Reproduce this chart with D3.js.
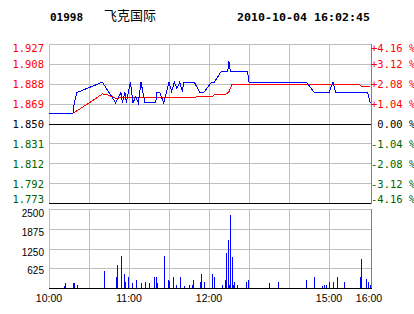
<!DOCTYPE html>
<html>
<head>
<meta charset="utf-8">
<script src="https://cdn.jsdelivr.net/npm/d3@7"></script>
<style>
  body { margin: 0; background: #fff; }
  text { white-space: pre; }
</style>
</head>
<body>
<div id="chart"></div>
<script>
// Header values
const stockCode = '01998';
const stockName = '飞克国际';
const stamp = '2010-10-04 16:02:45';

// Previous close and axis labels
const basePrice = 1.850;
const pctTicks = [4.16, 3.12, 2.08, 1.04, 0, -1.04, -2.08, -3.12, -4.16];
const priceLabels = ['1.927', '1.908', '1.888', '1.869', '1.850', '1.831', '1.812', '1.792', '1.773'];
const pctLabels = ['+4.16 %', '+3.12 %', '+2.08 %', '+1.04 %', ' 0.00 %', '-1.04 %', '-2.08 %', '-3.12 %', '-4.16 %'];
const volTicks = [2500, 1875, 1250, 625];
const timeTicks = [0, 60, 120, 210, 240];
const timeLabels = ['10:00', '11:00', '12:00', '15:00', '16:00'];

// Price line (minutes after 10:00 on the trading clock)
const priceTimes = [0, 18, 19, 21, 40, 50, 54, 55, 57, 58, 61, 63, 65, 67, 69, 72, 80, 81, 83, 86,
  90, 92, 94, 96, 98, 100, 101, 109, 113, 116, 122, 124, 129, 134, 135, 136, 149, 150,
  193, 199, 210, 213, 215, 239, 241];
const prices = [1.86, 1.86, 1.87, 1.88, 1.89, 1.87, 1.88, 1.87, 1.88, 1.87, 1.89, 1.87, 1.876, 1.87, 1.89, 1.87, 1.87, 1.88, 1.88, 1.87,
  1.89, 1.881, 1.89, 1.884, 1.89, 1.881, 1.89, 1.89, 1.88, 1.88, 1.89, 1.89, 1.90, 1.90, 1.91, 1.90, 1.90, 1.89,
  1.89, 1.88, 1.88, 1.89, 1.88, 1.88, 1.87];

// Average price line
const avgTimes = [0, 18, 22, 32, 40, 44, 50, 60, 87, 110, 111, 123, 124, 130, 133, 135, 137, 233, 234, 241];
const avgPrices = [1.86, 1.86, 1.8632, 1.8715, 1.8786, 1.8776, 1.8745, 1.8752, 1.8753, 1.8753, 1.8763, 1.8763,
  1.8779, 1.8779, 1.8786, 1.8809, 1.8873, 1.8873, 1.8862, 1.8862];

// Volume bars
const volTimes = [11, 12, 18, 19, 21, 41, 50, 51, 54, 56, 57, 59, 62, 65, 69, 72, 75, 79, 80, 81, 86, 89, 90, 93, 95, 98,
  101, 105, 107, 108, 113, 114, 116, 122, 124, 130, 132, 133, 134, 135, 136, 137, 138, 139, 141, 148, 149,
  165, 172, 193, 199, 205, 206, 208, 210, 213, 216, 221, 233, 234, 238, 239, 241];
const volumes = [70, 170, 170, 170, 100, 550, 340, 730, 1010, 450, 180, 360, 160, 260, 160, 200, 160, 340, 340, 160, 1010, 260, 210, 340, 100, 340,
  70, 100, 100, 260, 180, 450, 180, 450, 340, 100, 260, 1110, 1510, 80, 2320, 990, 100, 200, 100, 180, 260,
  170, 180, 260, 360, 70, 100, 100, 180, 180, 360, 180, 360, 930, 300, 180, 100];

const W = 414, H = 314;
const left = 49, right = 371;
const gridColor = '#c0c0c0';
const red = '#ff0000', green = '#006400';
const mono = '"DejaVu Sans Mono", monospace';
const sans = '"Liberation Sans", Arial, sans-serif';

const svg = d3.select('#chart')
  .append('svg')
  .attr('width', W)
  .attr('height', H);

// Scales
const x = d3.scaleLinear().domain([0, 240]).range([left, 369]);
const yPct = d3.scaleLinear().domain([-4.16, 4.16]).range([203, 44]);
const yPrice = p => yPct((p / basePrice - 1) * 100);
const yVol = d3.scaleLinear().domain([0, 2500]).range([288, 209]);
const px = v => Math.round(v) + 0.5;

// Header
svg.append('text')
  .attr('x', 50).attr('y', 21)
  .attr('font-family', mono).attr('font-weight', 'bold').attr('font-size', 11)
  .text(stockCode);
svg.append('text')
  .attr('x', 104).attr('y', 20)
  .attr('font-family', '"Noto Sans CJK SC", sans-serif').attr('font-size', 13)
  .text(stockName);
svg.append('text')
  .attr('x', 237).attr('y', 21)
  .attr('font-family', mono).attr('font-weight', 'bold').attr('font-size', 11)
  .attr('textLength', 133).attr('lengthAdjust', 'spacingAndGlyphs')
  .text(stamp);

// Price panel grid
const vGrid = d3.range(0, 240, 30);
svg.append('g').selectAll('line')
  .data(vGrid)
  .enter()
  .append('line')
  .attr('x1', d => px(x(d))).attr('x2', d => px(x(d)))
  .attr('y1', 44).attr('y2', 203)
  .attr('stroke', gridColor)
  .attr('shape-rendering', 'crispEdges');

svg.append('g').selectAll('line')
  .data(pctTicks)
  .enter()
  .append('line')
  .attr('x1', left).attr('x2', right)
  .attr('y1', d => px(yPct(d))).attr('y2', d => px(yPct(d)))
  .attr('stroke', (d, i) => (d === 0 || i === pctTicks.length - 1) ? '#000' : gridColor)
  .attr('shape-rendering', 'crispEdges');

// Right axis line
svg.append('line')
  .attr('x1', right + 0.5).attr('x2', right + 0.5)
  .attr('y1', 44).attr('y2', 204)
  .attr('stroke', '#808080')
  .attr('shape-rendering', 'crispEdges');

// Price and percent labels
const labelY = (d, i) => {
  if (i === 0) return 51.5;
  if (i === pctTicks.length - 1) return 203;
  return yPct(d) + 4.5;
};
const labelColor = d => d > 0 ? red : (d < 0 ? green : '#000');

svg.append('g').selectAll('text')
  .data(pctTicks)
  .enter()
  .append('text')
  .attr('x', 44).attr('y', labelY)
  .attr('text-anchor', 'end')
  .attr('font-family', mono).attr('font-size', 10.5)
  .attr('fill', labelColor)
  .text((d, i) => priceLabels[i]);

svg.append('g').selectAll('text')
  .data(pctTicks)
  .enter()
  .append('text')
  .attr('x', right).attr('y', labelY)
  .attr('font-family', mono).attr('font-size', 10.5)
  .attr('fill', labelColor)
  .text((d, i) => pctLabels[i]);

// Average and price lines
const line = d3.line()
  .x(d => x(d[0]))
  .y(d => yPrice(d[1]));

svg.append('path')
  .attr('d', line(d3.zip(avgTimes, avgPrices)))
  .attr('fill', 'none')
  .attr('stroke', red)
  .attr('stroke-width', 1)
  .attr('shape-rendering', 'crispEdges');

svg.append('path')
  .attr('d', line(d3.zip(priceTimes, prices)))
  .attr('fill', 'none')
  .attr('stroke', '#0000ff')
  .attr('stroke-width', 1)
  .attr('shape-rendering', 'crispEdges');

// Volume panel grid
svg.append('g').selectAll('line')
  .data(vGrid)
  .enter()
  .append('line')
  .attr('x1', d => px(x(d))).attr('x2', d => px(x(d)))
  .attr('y1', 209).attr('y2', 288)
  .attr('stroke', gridColor)
  .attr('shape-rendering', 'crispEdges');

svg.append('g').selectAll('line')
  .data(volTicks)
  .enter()
  .append('line')
  .attr('x1', left).attr('x2', right)
  .attr('y1', d => px(yVol(d))).attr('y2', d => px(yVol(d)))
  .attr('stroke', gridColor)
  .attr('shape-rendering', 'crispEdges');

svg.append('line')
  .attr('x1', right + 0.5).attr('x2', right + 0.5)
  .attr('y1', 209).attr('y2', 289)
  .attr('stroke', '#808080')
  .attr('shape-rendering', 'crispEdges');

// Volume bars
svg.append('g').selectAll('rect')
  .data(d3.zip(volTimes, volumes))
  .enter()
  .append('rect')
  .attr('x', d => Math.round(x(d[0])))
  .attr('y', d => Math.round(yVol(d[1])))
  .attr('width', 1)
  .attr('height', d => yVol(0) - Math.round(yVol(d[1])))
  .attr('fill', '#0000ff')
  .attr('shape-rendering', 'crispEdges');

// Volume baseline
svg.append('line')
  .attr('x1', left).attr('x2', right + 1)
  .attr('y1', px(yVol(0))).attr('y2', px(yVol(0)))
  .attr('stroke', '#000')
  .attr('shape-rendering', 'crispEdges');

// Volume labels
svg.append('g').selectAll('text')
  .data(volTicks)
  .enter()
  .append('text')
  .attr('x', 44)
  .attr('y', (d, i) => i === volTicks.length - 1 ? yVol(d) + 6 : yVol(d) + 7.5)
  .attr('text-anchor', 'end')
  .attr('font-family', sans).attr('font-size', 10)
  .text(d => d);

// Time labels
svg.append('g').selectAll('text')
  .data(timeTicks)
  .enter()
  .append('text')
  .attr('x', d => x(d))
  .attr('y', 302)
  .attr('text-anchor', 'middle')
  .attr('font-family', sans).attr('font-size', 10.5)
  .text((d, i) => timeLabels[i]);
</script>
</body>
</html>
